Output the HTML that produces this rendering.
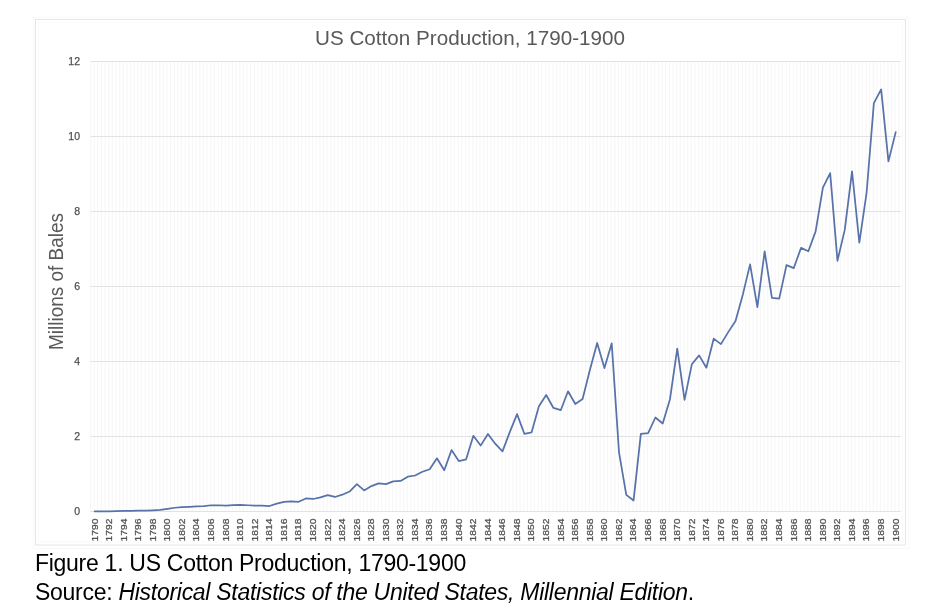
<!DOCTYPE html>
<html><head><meta charset="utf-8"><style>
html,body{margin:0;padding:0;background:#fff;width:941px;height:612px;overflow:hidden}
svg{position:absolute;left:0;top:0;will-change:transform}
.cap{will-change:transform;position:absolute;left:35px;font-family:"Liberation Sans",Arial,sans-serif;font-size:23px;letter-spacing:-0.28px;color:#000;white-space:nowrap;line-height:28.5px}
</style></head><body>
<svg width="941" height="612" viewBox="0 0 941 612">
<rect x="33.5" y="17.5" width="875" height="531" fill="none" stroke="#f9f9f9" stroke-width="1"/>
<rect x="35.5" y="19.5" width="870" height="525.5" fill="#fff" stroke="#e6e6e6" stroke-width="1"/>
<rect x="38.5" y="22.5" width="864" height="519.5" fill="none" stroke="#fafafa" stroke-width="1"/>
<g stroke="#f6f6f6" stroke-width="1"><line x1="90.50" y1="61.4" x2="90.50" y2="511.50"/><line x1="94.14" y1="61.4" x2="94.14" y2="511.50"/><line x1="97.78" y1="61.4" x2="97.78" y2="511.50"/><line x1="101.42" y1="61.4" x2="101.42" y2="511.50"/><line x1="105.06" y1="61.4" x2="105.06" y2="511.50"/><line x1="108.71" y1="61.4" x2="108.71" y2="511.50"/><line x1="112.35" y1="61.4" x2="112.35" y2="511.50"/><line x1="115.99" y1="61.4" x2="115.99" y2="511.50"/><line x1="119.63" y1="61.4" x2="119.63" y2="511.50"/><line x1="123.27" y1="61.4" x2="123.27" y2="511.50"/><line x1="126.91" y1="61.4" x2="126.91" y2="511.50"/><line x1="130.55" y1="61.4" x2="130.55" y2="511.50"/><line x1="134.19" y1="61.4" x2="134.19" y2="511.50"/><line x1="137.83" y1="61.4" x2="137.83" y2="511.50"/><line x1="141.47" y1="61.4" x2="141.47" y2="511.50"/><line x1="145.12" y1="61.4" x2="145.12" y2="511.50"/><line x1="148.76" y1="61.4" x2="148.76" y2="511.50"/><line x1="152.40" y1="61.4" x2="152.40" y2="511.50"/><line x1="156.04" y1="61.4" x2="156.04" y2="511.50"/><line x1="159.68" y1="61.4" x2="159.68" y2="511.50"/><line x1="163.32" y1="61.4" x2="163.32" y2="511.50"/><line x1="166.96" y1="61.4" x2="166.96" y2="511.50"/><line x1="170.60" y1="61.4" x2="170.60" y2="511.50"/><line x1="174.24" y1="61.4" x2="174.24" y2="511.50"/><line x1="177.88" y1="61.4" x2="177.88" y2="511.50"/><line x1="181.52" y1="61.4" x2="181.52" y2="511.50"/><line x1="185.17" y1="61.4" x2="185.17" y2="511.50"/><line x1="188.81" y1="61.4" x2="188.81" y2="511.50"/><line x1="192.45" y1="61.4" x2="192.45" y2="511.50"/><line x1="196.09" y1="61.4" x2="196.09" y2="511.50"/><line x1="199.73" y1="61.4" x2="199.73" y2="511.50"/><line x1="203.37" y1="61.4" x2="203.37" y2="511.50"/><line x1="207.01" y1="61.4" x2="207.01" y2="511.50"/><line x1="210.65" y1="61.4" x2="210.65" y2="511.50"/><line x1="214.29" y1="61.4" x2="214.29" y2="511.50"/><line x1="217.93" y1="61.4" x2="217.93" y2="511.50"/><line x1="221.58" y1="61.4" x2="221.58" y2="511.50"/><line x1="225.22" y1="61.4" x2="225.22" y2="511.50"/><line x1="228.86" y1="61.4" x2="228.86" y2="511.50"/><line x1="232.50" y1="61.4" x2="232.50" y2="511.50"/><line x1="236.14" y1="61.4" x2="236.14" y2="511.50"/><line x1="239.78" y1="61.4" x2="239.78" y2="511.50"/><line x1="243.42" y1="61.4" x2="243.42" y2="511.50"/><line x1="247.06" y1="61.4" x2="247.06" y2="511.50"/><line x1="250.70" y1="61.4" x2="250.70" y2="511.50"/><line x1="254.34" y1="61.4" x2="254.34" y2="511.50"/><line x1="257.99" y1="61.4" x2="257.99" y2="511.50"/><line x1="261.63" y1="61.4" x2="261.63" y2="511.50"/><line x1="265.27" y1="61.4" x2="265.27" y2="511.50"/><line x1="268.91" y1="61.4" x2="268.91" y2="511.50"/><line x1="272.55" y1="61.4" x2="272.55" y2="511.50"/><line x1="276.19" y1="61.4" x2="276.19" y2="511.50"/><line x1="279.83" y1="61.4" x2="279.83" y2="511.50"/><line x1="283.47" y1="61.4" x2="283.47" y2="511.50"/><line x1="287.11" y1="61.4" x2="287.11" y2="511.50"/><line x1="290.75" y1="61.4" x2="290.75" y2="511.50"/><line x1="294.40" y1="61.4" x2="294.40" y2="511.50"/><line x1="298.04" y1="61.4" x2="298.04" y2="511.50"/><line x1="301.68" y1="61.4" x2="301.68" y2="511.50"/><line x1="305.32" y1="61.4" x2="305.32" y2="511.50"/><line x1="308.96" y1="61.4" x2="308.96" y2="511.50"/><line x1="312.60" y1="61.4" x2="312.60" y2="511.50"/><line x1="316.24" y1="61.4" x2="316.24" y2="511.50"/><line x1="319.88" y1="61.4" x2="319.88" y2="511.50"/><line x1="323.52" y1="61.4" x2="323.52" y2="511.50"/><line x1="327.17" y1="61.4" x2="327.17" y2="511.50"/><line x1="330.81" y1="61.4" x2="330.81" y2="511.50"/><line x1="334.45" y1="61.4" x2="334.45" y2="511.50"/><line x1="338.09" y1="61.4" x2="338.09" y2="511.50"/><line x1="341.73" y1="61.4" x2="341.73" y2="511.50"/><line x1="345.37" y1="61.4" x2="345.37" y2="511.50"/><line x1="349.01" y1="61.4" x2="349.01" y2="511.50"/><line x1="352.65" y1="61.4" x2="352.65" y2="511.50"/><line x1="356.29" y1="61.4" x2="356.29" y2="511.50"/><line x1="359.93" y1="61.4" x2="359.93" y2="511.50"/><line x1="363.58" y1="61.4" x2="363.58" y2="511.50"/><line x1="367.22" y1="61.4" x2="367.22" y2="511.50"/><line x1="370.86" y1="61.4" x2="370.86" y2="511.50"/><line x1="374.50" y1="61.4" x2="374.50" y2="511.50"/><line x1="378.14" y1="61.4" x2="378.14" y2="511.50"/><line x1="381.78" y1="61.4" x2="381.78" y2="511.50"/><line x1="385.42" y1="61.4" x2="385.42" y2="511.50"/><line x1="389.06" y1="61.4" x2="389.06" y2="511.50"/><line x1="392.70" y1="61.4" x2="392.70" y2="511.50"/><line x1="396.34" y1="61.4" x2="396.34" y2="511.50"/><line x1="399.99" y1="61.4" x2="399.99" y2="511.50"/><line x1="403.63" y1="61.4" x2="403.63" y2="511.50"/><line x1="407.27" y1="61.4" x2="407.27" y2="511.50"/><line x1="410.91" y1="61.4" x2="410.91" y2="511.50"/><line x1="414.55" y1="61.4" x2="414.55" y2="511.50"/><line x1="418.19" y1="61.4" x2="418.19" y2="511.50"/><line x1="421.83" y1="61.4" x2="421.83" y2="511.50"/><line x1="425.47" y1="61.4" x2="425.47" y2="511.50"/><line x1="429.11" y1="61.4" x2="429.11" y2="511.50"/><line x1="432.75" y1="61.4" x2="432.75" y2="511.50"/><line x1="436.40" y1="61.4" x2="436.40" y2="511.50"/><line x1="440.04" y1="61.4" x2="440.04" y2="511.50"/><line x1="443.68" y1="61.4" x2="443.68" y2="511.50"/><line x1="447.32" y1="61.4" x2="447.32" y2="511.50"/><line x1="450.96" y1="61.4" x2="450.96" y2="511.50"/><line x1="454.60" y1="61.4" x2="454.60" y2="511.50"/><line x1="458.24" y1="61.4" x2="458.24" y2="511.50"/><line x1="461.88" y1="61.4" x2="461.88" y2="511.50"/><line x1="465.52" y1="61.4" x2="465.52" y2="511.50"/><line x1="469.16" y1="61.4" x2="469.16" y2="511.50"/><line x1="472.81" y1="61.4" x2="472.81" y2="511.50"/><line x1="476.45" y1="61.4" x2="476.45" y2="511.50"/><line x1="480.09" y1="61.4" x2="480.09" y2="511.50"/><line x1="483.73" y1="61.4" x2="483.73" y2="511.50"/><line x1="487.37" y1="61.4" x2="487.37" y2="511.50"/><line x1="491.01" y1="61.4" x2="491.01" y2="511.50"/><line x1="494.65" y1="61.4" x2="494.65" y2="511.50"/><line x1="498.29" y1="61.4" x2="498.29" y2="511.50"/><line x1="501.93" y1="61.4" x2="501.93" y2="511.50"/><line x1="505.57" y1="61.4" x2="505.57" y2="511.50"/><line x1="509.22" y1="61.4" x2="509.22" y2="511.50"/><line x1="512.86" y1="61.4" x2="512.86" y2="511.50"/><line x1="516.50" y1="61.4" x2="516.50" y2="511.50"/><line x1="520.14" y1="61.4" x2="520.14" y2="511.50"/><line x1="523.78" y1="61.4" x2="523.78" y2="511.50"/><line x1="527.42" y1="61.4" x2="527.42" y2="511.50"/><line x1="531.06" y1="61.4" x2="531.06" y2="511.50"/><line x1="534.70" y1="61.4" x2="534.70" y2="511.50"/><line x1="538.34" y1="61.4" x2="538.34" y2="511.50"/><line x1="541.98" y1="61.4" x2="541.98" y2="511.50"/><line x1="545.63" y1="61.4" x2="545.63" y2="511.50"/><line x1="549.27" y1="61.4" x2="549.27" y2="511.50"/><line x1="552.91" y1="61.4" x2="552.91" y2="511.50"/><line x1="556.55" y1="61.4" x2="556.55" y2="511.50"/><line x1="560.19" y1="61.4" x2="560.19" y2="511.50"/><line x1="563.83" y1="61.4" x2="563.83" y2="511.50"/><line x1="567.47" y1="61.4" x2="567.47" y2="511.50"/><line x1="571.11" y1="61.4" x2="571.11" y2="511.50"/><line x1="574.75" y1="61.4" x2="574.75" y2="511.50"/><line x1="578.39" y1="61.4" x2="578.39" y2="511.50"/><line x1="582.04" y1="61.4" x2="582.04" y2="511.50"/><line x1="585.68" y1="61.4" x2="585.68" y2="511.50"/><line x1="589.32" y1="61.4" x2="589.32" y2="511.50"/><line x1="592.96" y1="61.4" x2="592.96" y2="511.50"/><line x1="596.60" y1="61.4" x2="596.60" y2="511.50"/><line x1="600.24" y1="61.4" x2="600.24" y2="511.50"/><line x1="603.88" y1="61.4" x2="603.88" y2="511.50"/><line x1="607.52" y1="61.4" x2="607.52" y2="511.50"/><line x1="611.16" y1="61.4" x2="611.16" y2="511.50"/><line x1="614.80" y1="61.4" x2="614.80" y2="511.50"/><line x1="618.45" y1="61.4" x2="618.45" y2="511.50"/><line x1="622.09" y1="61.4" x2="622.09" y2="511.50"/><line x1="625.73" y1="61.4" x2="625.73" y2="511.50"/><line x1="629.37" y1="61.4" x2="629.37" y2="511.50"/><line x1="633.01" y1="61.4" x2="633.01" y2="511.50"/><line x1="636.65" y1="61.4" x2="636.65" y2="511.50"/><line x1="640.29" y1="61.4" x2="640.29" y2="511.50"/><line x1="643.93" y1="61.4" x2="643.93" y2="511.50"/><line x1="647.57" y1="61.4" x2="647.57" y2="511.50"/><line x1="651.21" y1="61.4" x2="651.21" y2="511.50"/><line x1="654.85" y1="61.4" x2="654.85" y2="511.50"/><line x1="658.50" y1="61.4" x2="658.50" y2="511.50"/><line x1="662.14" y1="61.4" x2="662.14" y2="511.50"/><line x1="665.78" y1="61.4" x2="665.78" y2="511.50"/><line x1="669.42" y1="61.4" x2="669.42" y2="511.50"/><line x1="673.06" y1="61.4" x2="673.06" y2="511.50"/><line x1="676.70" y1="61.4" x2="676.70" y2="511.50"/><line x1="680.34" y1="61.4" x2="680.34" y2="511.50"/><line x1="683.98" y1="61.4" x2="683.98" y2="511.50"/><line x1="687.62" y1="61.4" x2="687.62" y2="511.50"/><line x1="691.26" y1="61.4" x2="691.26" y2="511.50"/><line x1="694.91" y1="61.4" x2="694.91" y2="511.50"/><line x1="698.55" y1="61.4" x2="698.55" y2="511.50"/><line x1="702.19" y1="61.4" x2="702.19" y2="511.50"/><line x1="705.83" y1="61.4" x2="705.83" y2="511.50"/><line x1="709.47" y1="61.4" x2="709.47" y2="511.50"/><line x1="713.11" y1="61.4" x2="713.11" y2="511.50"/><line x1="716.75" y1="61.4" x2="716.75" y2="511.50"/><line x1="720.39" y1="61.4" x2="720.39" y2="511.50"/><line x1="724.03" y1="61.4" x2="724.03" y2="511.50"/><line x1="727.67" y1="61.4" x2="727.67" y2="511.50"/><line x1="731.32" y1="61.4" x2="731.32" y2="511.50"/><line x1="734.96" y1="61.4" x2="734.96" y2="511.50"/><line x1="738.60" y1="61.4" x2="738.60" y2="511.50"/><line x1="742.24" y1="61.4" x2="742.24" y2="511.50"/><line x1="745.88" y1="61.4" x2="745.88" y2="511.50"/><line x1="749.52" y1="61.4" x2="749.52" y2="511.50"/><line x1="753.16" y1="61.4" x2="753.16" y2="511.50"/><line x1="756.80" y1="61.4" x2="756.80" y2="511.50"/><line x1="760.44" y1="61.4" x2="760.44" y2="511.50"/><line x1="764.08" y1="61.4" x2="764.08" y2="511.50"/><line x1="767.73" y1="61.4" x2="767.73" y2="511.50"/><line x1="771.37" y1="61.4" x2="771.37" y2="511.50"/><line x1="775.01" y1="61.4" x2="775.01" y2="511.50"/><line x1="778.65" y1="61.4" x2="778.65" y2="511.50"/><line x1="782.29" y1="61.4" x2="782.29" y2="511.50"/><line x1="785.93" y1="61.4" x2="785.93" y2="511.50"/><line x1="789.57" y1="61.4" x2="789.57" y2="511.50"/><line x1="793.21" y1="61.4" x2="793.21" y2="511.50"/><line x1="796.85" y1="61.4" x2="796.85" y2="511.50"/><line x1="800.49" y1="61.4" x2="800.49" y2="511.50"/><line x1="804.14" y1="61.4" x2="804.14" y2="511.50"/><line x1="807.78" y1="61.4" x2="807.78" y2="511.50"/><line x1="811.42" y1="61.4" x2="811.42" y2="511.50"/><line x1="815.06" y1="61.4" x2="815.06" y2="511.50"/><line x1="818.70" y1="61.4" x2="818.70" y2="511.50"/><line x1="822.34" y1="61.4" x2="822.34" y2="511.50"/><line x1="825.98" y1="61.4" x2="825.98" y2="511.50"/><line x1="829.62" y1="61.4" x2="829.62" y2="511.50"/><line x1="833.26" y1="61.4" x2="833.26" y2="511.50"/><line x1="836.90" y1="61.4" x2="836.90" y2="511.50"/><line x1="840.55" y1="61.4" x2="840.55" y2="511.50"/><line x1="844.19" y1="61.4" x2="844.19" y2="511.50"/><line x1="847.83" y1="61.4" x2="847.83" y2="511.50"/><line x1="851.47" y1="61.4" x2="851.47" y2="511.50"/><line x1="855.11" y1="61.4" x2="855.11" y2="511.50"/><line x1="858.75" y1="61.4" x2="858.75" y2="511.50"/><line x1="862.39" y1="61.4" x2="862.39" y2="511.50"/><line x1="866.03" y1="61.4" x2="866.03" y2="511.50"/><line x1="869.67" y1="61.4" x2="869.67" y2="511.50"/><line x1="873.31" y1="61.4" x2="873.31" y2="511.50"/><line x1="876.96" y1="61.4" x2="876.96" y2="511.50"/><line x1="880.60" y1="61.4" x2="880.60" y2="511.50"/><line x1="884.24" y1="61.4" x2="884.24" y2="511.50"/><line x1="887.88" y1="61.4" x2="887.88" y2="511.50"/><line x1="891.52" y1="61.4" x2="891.52" y2="511.50"/><line x1="895.16" y1="61.4" x2="895.16" y2="511.50"/><line x1="898.80" y1="61.4" x2="898.80" y2="511.50"/></g>
<g stroke="#e2e2e2" stroke-width="1"><line x1="90.5" y1="511.50" x2="900.8" y2="511.50"/><line x1="90.5" y1="436.50" x2="900.8" y2="436.50"/><line x1="90.5" y1="361.50" x2="900.8" y2="361.50"/><line x1="90.5" y1="286.50" x2="900.8" y2="286.50"/><line x1="90.5" y1="211.50" x2="900.8" y2="211.50"/><line x1="90.5" y1="136.50" x2="900.8" y2="136.50"/><line x1="90.5" y1="61.50" x2="900.8" y2="61.50"/></g>
<g font-family="Liberation Sans, Arial, sans-serif" font-size="10.5" fill="#505050" stroke="#505050" stroke-width="0.25"><text x="80" y="515.20" text-anchor="end">0</text><text x="80" y="440.20" text-anchor="end">2</text><text x="80" y="365.20" text-anchor="end">4</text><text x="80" y="290.20" text-anchor="end">6</text><text x="80" y="215.20" text-anchor="end">8</text><text x="80" y="140.20" text-anchor="end">10</text><text x="80" y="65.20" text-anchor="end">12</text></g>
<g font-family="Liberation Sans, Arial, sans-serif" font-size="9.8" fill="#505050" stroke="#505050" stroke-width="0.25"><text transform="translate(97.50,518.6) rotate(-90) scale(1.05,1)" text-anchor="end">1790</text><text transform="translate(112.06,518.6) rotate(-90) scale(1.05,1)" text-anchor="end">1792</text><text transform="translate(126.63,518.6) rotate(-90) scale(1.05,1)" text-anchor="end">1794</text><text transform="translate(141.19,518.6) rotate(-90) scale(1.05,1)" text-anchor="end">1796</text><text transform="translate(155.76,518.6) rotate(-90) scale(1.05,1)" text-anchor="end">1798</text><text transform="translate(170.32,518.6) rotate(-90) scale(1.05,1)" text-anchor="end">1800</text><text transform="translate(184.88,518.6) rotate(-90) scale(1.05,1)" text-anchor="end">1802</text><text transform="translate(199.45,518.6) rotate(-90) scale(1.05,1)" text-anchor="end">1804</text><text transform="translate(214.01,518.6) rotate(-90) scale(1.05,1)" text-anchor="end">1806</text><text transform="translate(228.58,518.6) rotate(-90) scale(1.05,1)" text-anchor="end">1808</text><text transform="translate(243.14,518.6) rotate(-90) scale(1.05,1)" text-anchor="end">1810</text><text transform="translate(257.70,518.6) rotate(-90) scale(1.05,1)" text-anchor="end">1812</text><text transform="translate(272.27,518.6) rotate(-90) scale(1.05,1)" text-anchor="end">1814</text><text transform="translate(286.83,518.6) rotate(-90) scale(1.05,1)" text-anchor="end">1816</text><text transform="translate(301.40,518.6) rotate(-90) scale(1.05,1)" text-anchor="end">1818</text><text transform="translate(315.96,518.6) rotate(-90) scale(1.05,1)" text-anchor="end">1820</text><text transform="translate(330.52,518.6) rotate(-90) scale(1.05,1)" text-anchor="end">1822</text><text transform="translate(345.09,518.6) rotate(-90) scale(1.05,1)" text-anchor="end">1824</text><text transform="translate(359.65,518.6) rotate(-90) scale(1.05,1)" text-anchor="end">1826</text><text transform="translate(374.22,518.6) rotate(-90) scale(1.05,1)" text-anchor="end">1828</text><text transform="translate(388.78,518.6) rotate(-90) scale(1.05,1)" text-anchor="end">1830</text><text transform="translate(403.34,518.6) rotate(-90) scale(1.05,1)" text-anchor="end">1832</text><text transform="translate(417.91,518.6) rotate(-90) scale(1.05,1)" text-anchor="end">1834</text><text transform="translate(432.47,518.6) rotate(-90) scale(1.05,1)" text-anchor="end">1836</text><text transform="translate(447.04,518.6) rotate(-90) scale(1.05,1)" text-anchor="end">1838</text><text transform="translate(461.60,518.6) rotate(-90) scale(1.05,1)" text-anchor="end">1840</text><text transform="translate(476.16,518.6) rotate(-90) scale(1.05,1)" text-anchor="end">1842</text><text transform="translate(490.73,518.6) rotate(-90) scale(1.05,1)" text-anchor="end">1844</text><text transform="translate(505.29,518.6) rotate(-90) scale(1.05,1)" text-anchor="end">1846</text><text transform="translate(519.86,518.6) rotate(-90) scale(1.05,1)" text-anchor="end">1848</text><text transform="translate(534.42,518.6) rotate(-90) scale(1.05,1)" text-anchor="end">1850</text><text transform="translate(548.98,518.6) rotate(-90) scale(1.05,1)" text-anchor="end">1852</text><text transform="translate(563.55,518.6) rotate(-90) scale(1.05,1)" text-anchor="end">1854</text><text transform="translate(578.11,518.6) rotate(-90) scale(1.05,1)" text-anchor="end">1856</text><text transform="translate(592.68,518.6) rotate(-90) scale(1.05,1)" text-anchor="end">1858</text><text transform="translate(607.24,518.6) rotate(-90) scale(1.05,1)" text-anchor="end">1860</text><text transform="translate(621.80,518.6) rotate(-90) scale(1.05,1)" text-anchor="end">1862</text><text transform="translate(636.37,518.6) rotate(-90) scale(1.05,1)" text-anchor="end">1864</text><text transform="translate(650.93,518.6) rotate(-90) scale(1.05,1)" text-anchor="end">1866</text><text transform="translate(665.50,518.6) rotate(-90) scale(1.05,1)" text-anchor="end">1868</text><text transform="translate(680.06,518.6) rotate(-90) scale(1.05,1)" text-anchor="end">1870</text><text transform="translate(694.62,518.6) rotate(-90) scale(1.05,1)" text-anchor="end">1872</text><text transform="translate(709.19,518.6) rotate(-90) scale(1.05,1)" text-anchor="end">1874</text><text transform="translate(723.75,518.6) rotate(-90) scale(1.05,1)" text-anchor="end">1876</text><text transform="translate(738.32,518.6) rotate(-90) scale(1.05,1)" text-anchor="end">1878</text><text transform="translate(752.88,518.6) rotate(-90) scale(1.05,1)" text-anchor="end">1880</text><text transform="translate(767.44,518.6) rotate(-90) scale(1.05,1)" text-anchor="end">1882</text><text transform="translate(782.01,518.6) rotate(-90) scale(1.05,1)" text-anchor="end">1884</text><text transform="translate(796.57,518.6) rotate(-90) scale(1.05,1)" text-anchor="end">1886</text><text transform="translate(811.14,518.6) rotate(-90) scale(1.05,1)" text-anchor="end">1888</text><text transform="translate(825.70,518.6) rotate(-90) scale(1.05,1)" text-anchor="end">1890</text><text transform="translate(840.26,518.6) rotate(-90) scale(1.05,1)" text-anchor="end">1892</text><text transform="translate(854.83,518.6) rotate(-90) scale(1.05,1)" text-anchor="end">1894</text><text transform="translate(869.39,518.6) rotate(-90) scale(1.05,1)" text-anchor="end">1896</text><text transform="translate(883.96,518.6) rotate(-90) scale(1.05,1)" text-anchor="end">1898</text><text transform="translate(898.52,518.6) rotate(-90) scale(1.05,1)" text-anchor="end">1900</text></g>
<text x="470" y="44.6" text-anchor="middle" font-family="Liberation Sans, Arial, sans-serif" font-size="20" fill="#595959" textLength="310" lengthAdjust="spacingAndGlyphs">US Cotton Production, 1790-1900</text>
<text transform="translate(62.8,350) rotate(-90)" font-family="Liberation Sans, Arial, sans-serif" font-size="20.3" fill="#595959" textLength="137" lengthAdjust="spacingAndGlyphs">Millions of Bales</text>
<polyline points="94.70,511.39 101.98,511.35 109.26,511.28 116.55,511.13 123.83,510.86 131.11,510.86 138.39,510.71 145.67,510.64 152.96,510.34 160.24,509.93 167.52,508.77 174.80,507.75 182.08,507.19 189.37,506.82 196.65,506.41 203.93,506.03 211.21,505.25 218.49,505.25 225.78,505.62 233.06,505.10 240.34,504.83 247.62,505.25 254.90,505.62 262.19,505.62 269.47,506.03 276.75,503.67 284.03,501.80 291.31,501.31 298.60,501.80 305.88,498.43 313.16,498.99 320.44,497.42 327.72,495.06 335.01,496.97 342.29,494.68 349.57,491.54 356.85,484.12 364.13,490.38 371.42,486.07 378.70,483.34 385.98,484.12 393.26,481.35 400.54,480.98 407.83,476.67 415.11,475.51 422.39,471.77 429.67,469.22 436.95,458.32 444.24,470.31 451.52,450.08 458.80,461.02 466.08,459.44 473.36,435.85 480.65,445.59 487.93,433.98 495.21,443.72 502.49,451.39 509.77,432.11 517.06,414.13 524.34,433.79 531.62,432.29 538.90,406.27 546.18,395.03 553.47,407.95 560.75,410.20 568.03,391.29 575.31,404.02 582.59,398.96 589.88,369.94 597.16,342.98 604.44,368.07 611.72,343.35 619.00,452.33 626.29,494.83 633.57,500.45 640.85,433.79 648.13,433.04 655.41,417.50 662.70,423.49 669.98,399.15 677.26,348.59 684.54,399.90 691.82,364.32 699.11,355.33 706.39,367.69 713.67,338.67 720.95,344.10 728.23,332.11 735.52,321.07 742.80,294.66 750.08,264.33 757.36,307.02 764.64,251.41 771.93,297.85 779.21,298.60 786.49,265.08 793.77,268.07 801.05,247.85 808.34,251.22 815.62,231.37 822.90,187.56 830.18,173.14 837.46,260.77 844.75,229.88 852.03,171.27 859.31,242.61 866.59,192.80 873.87,103.11 881.16,89.44 888.44,161.34 895.72,132.13" fill="none" stroke="#5872aa" stroke-width="1.75" stroke-linejoin="round" stroke-linecap="round"/>
</svg>
<div class="cap" style="top:549px">Figure 1. US Cotton Production, 1790-1900</div>
<div class="cap" style="top:578px">Source: <i>Historical Statistics of the United States, Millennial Edition</i>.</div>
</body></html>
